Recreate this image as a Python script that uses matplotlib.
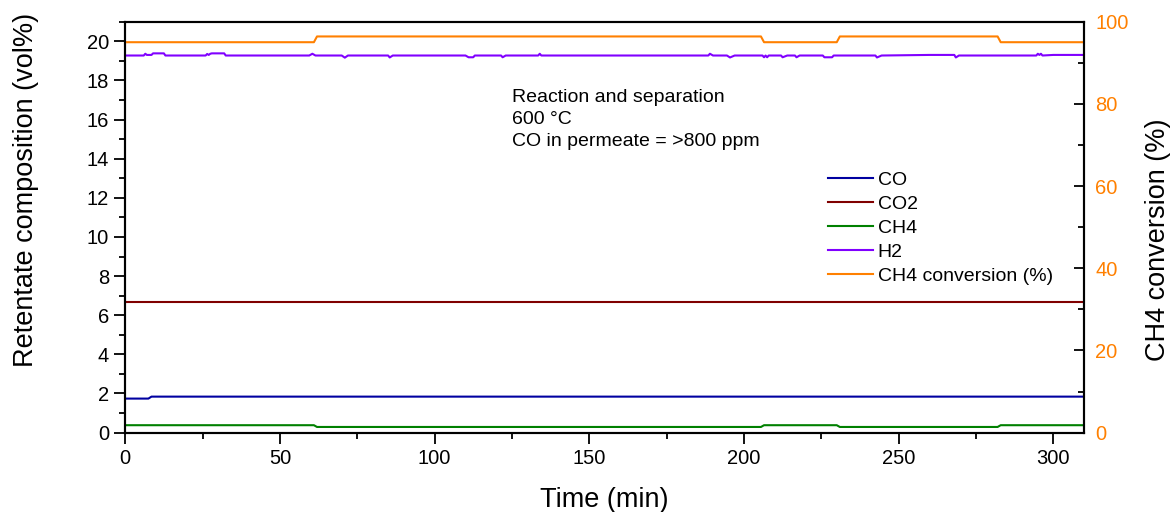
import matplotlib
matplotlib.use("Agg")
import matplotlib.pyplot as plt
from matplotlib.ticker import MultipleLocator

plt.rcParams['font.family'] = ['Liberation Sans', 'DejaVu Sans']

# retentate composition (vol%) vs time (min)
co_time = [0, 7.5, 8.5, 310]
co_vals = [1.74, 1.74, 1.84, 1.84]

co2_time = [0, 310]
co2_vals = [6.66, 6.66]

ch4_time = [0, 61, 62, 205.5, 206.5, 230, 231, 282, 283, 310]
ch4_vals = [0.38, 0.38, 0.29, 0.29, 0.38, 0.38, 0.29, 0.29, 0.38, 0.38]

h2_time = [0, 6.0, 6.5, 7.0, 8.5, 9.0, 12.5, 13.0, 26.0, 26.5, 27.0, 27.5,
           28.0, 32.0, 32.5, 59.5, 60.5, 61.5, 70.0, 71.0, 72.0, 85.0, 85.5,
           86.5, 110.0, 111.0, 112.5, 113.0, 121.5, 122.0, 123.0, 133.5,
           134.0, 134.5, 188.5, 189.0, 190.0, 194.5, 195.5, 197.0, 206.0,
           206.5, 207.0, 207.5, 208.0, 212.0, 212.5, 214.0, 216.5, 217.0,
           218.0, 225.5, 226.0, 228.5, 229.0, 242.5, 243.0, 244.5, 260.0,
           268.0, 268.5, 269.5, 294.5, 295.0, 295.5, 296.0, 296.5, 300.0,
           310.0]
h2_vals = [19.27, 19.27, 19.36, 19.30, 19.30, 19.38, 19.38, 19.27, 19.27,
           19.35, 19.30, 19.36, 19.38, 19.38, 19.27, 19.27, 19.36, 19.27,
           19.27, 19.16, 19.27, 19.27, 19.17, 19.27, 19.27, 19.18, 19.18,
           19.27, 19.27, 19.18, 19.27, 19.27, 19.36, 19.27, 19.27, 19.36,
           19.27, 19.27, 19.17, 19.27, 19.27, 19.18, 19.27, 19.18, 19.27,
           19.27, 19.18, 19.27, 19.27, 19.18, 19.27, 19.27, 19.18, 19.18,
           19.27, 19.27, 19.17, 19.27, 19.30, 19.30, 19.17, 19.27, 19.27,
           19.36, 19.30, 19.36, 19.27, 19.30, 19.30]

# CH4 conversion (%) on the right axis
conv_time = [0, 61, 62, 205.5, 206.5, 230, 231, 282, 283, 310]
conv_vals = [95.0, 95.0, 96.4, 96.4, 95.0, 95.0, 96.4, 96.4, 95.0, 95.0]

orange = '#ff8000'

fig = plt.figure(figsize=(11.7, 5.12), dpi=100)
ax = fig.add_axes([0.107, 0.155, 0.8197, 0.8027])
ax2 = ax.twinx()

l1, = ax.plot(co_time, co_vals, color='#0000a0', lw=1.5, label='CO')
l2, = ax.plot(co2_time, co2_vals, color='#800000', lw=1.5, label='CO2')
l3, = ax.plot(ch4_time, ch4_vals, color='#008000', lw=1.5, label='CH4')
l4, = ax.plot(h2_time, h2_vals, color='#8000ff', lw=1.5, label='H2')
l5, = ax2.plot(conv_time, conv_vals, color=orange, lw=1.5,
               label='CH4 conversion (%)')

ax.set_xlim(0, 310)
ax.set_ylim(0, 21)
ax2.set_ylim(0, 100)

ax.xaxis.set_major_locator(MultipleLocator(50))
ax.xaxis.set_minor_locator(MultipleLocator(25))
ax.yaxis.set_major_locator(MultipleLocator(2))
ax.yaxis.set_minor_locator(MultipleLocator(1))
ax2.yaxis.set_major_locator(MultipleLocator(20))
ax2.yaxis.set_minor_locator(MultipleLocator(10))

ax.tick_params(axis='both', which='major', direction='out', length=8,
               width=1.3, labelsize=14.5)
ax.tick_params(axis='both', which='minor', direction='out', length=4,
               width=1.3)
ax.tick_params(axis='y', which='both', right=False)
ax2.tick_params(axis='y', which='major', direction='in', length=7,
                width=1.3, labelsize=14.5, labelcolor=orange, pad=8)
ax2.tick_params(axis='y', which='minor', direction='in', length=4, width=1.3)

for a in (ax, ax2):
    for s in a.spines.values():
        s.set_linewidth(1.5)

ax.set_xlabel('Time (min)', fontsize=19.5)
ax.set_ylabel('Retentate composition (vol%)', fontsize=19.5)
ax2.set_ylabel('CH4 conversion (%)', fontsize=19.5)
ax.xaxis.set_label_coords(0.5, -0.133)
ax.yaxis.set_label_coords(-0.09, 0.59)
ax2.yaxis.set_label_coords(1.063, 0.47)

ax.text(0.4035, 0.835, 'Reaction and separation\n600 °C\nCO in permeate = >800 ppm',
        transform=ax.transAxes, ha='left', va='top', fontsize=14,
        linespacing=1.375)

ax.legend(handles=[l1, l2, l3, l4, l5], loc='upper left',
          bbox_to_anchor=(0.733, 0.636), frameon=False, fontsize=14,
          handlelength=2.3, handletextpad=0.25, labelspacing=0.33,
          borderpad=0, borderaxespad=0)

fig.savefig('out.png', dpi=100)
